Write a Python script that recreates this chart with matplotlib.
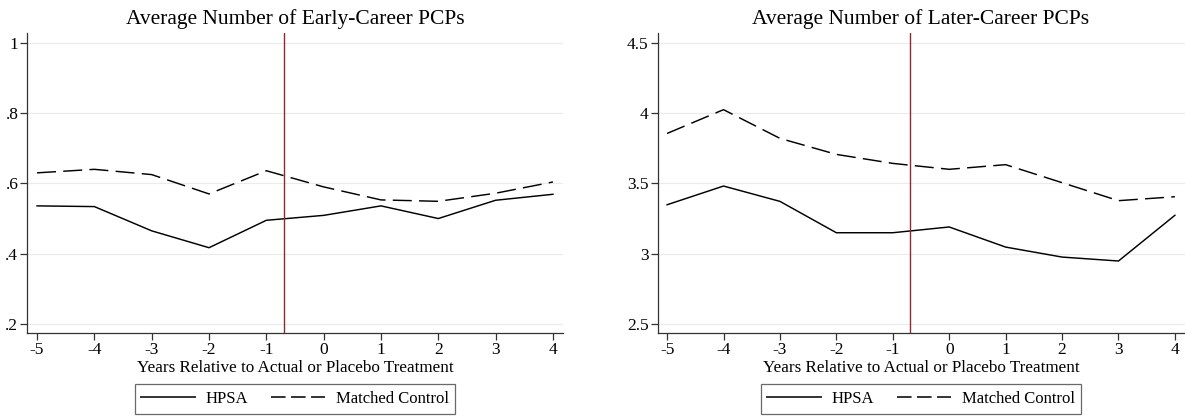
import matplotlib
matplotlib.use("Agg")
import matplotlib.pyplot as plt
from matplotlib.lines import Line2D

plt.rcParams["font.family"] = ["Liberation Serif", "DejaVu Serif"]

years = [-5, -4, -3, -2, -1, 0, 1, 2, 3, 4]
treat_line = -0.7

early_hpsa = [0.536, 0.534, 0.465, 0.417, 0.495, 0.509, 0.536, 0.500, 0.552, 0.569]
early_ctrl = [0.630, 0.640, 0.625, 0.570, 0.636, 0.590, 0.553, 0.549, 0.572, 0.604]

later_hpsa = [3.348, 3.481, 3.372, 3.149, 3.149, 3.190, 3.047, 2.976, 2.948, 3.273]
later_ctrl = [3.855, 4.024, 3.820, 3.706, 3.642, 3.600, 3.633, 3.505, 3.377, 3.405]

early_ticks = [0.2, 0.4, 0.6, 0.8, 1.0]
early_labels = [".2", ".4", ".6", ".8", "1"]
later_ticks = [2.5, 3.0, 3.5, 4.0, 4.5]
later_labels = ["2.5", "3", "3.5", "4", "4.5"]

titles = ["Average Number of Early-Career PCPs", "Average Number of Later-Career PCPs"]
xlabel = "Years Relative to Actual or Placebo Treatment"
legend_labels = ["HPSA", "Matched Control"]

W, H = 1185, 416
fig = plt.figure(figsize=(W / 100, H / 100), dpi=100)

def frac(x0, x1, ytop, ybot):
    return [x0 / W, 1 - ybot / H, (x1 - x0) / W, (ybot - ytop) / H]

ax1 = fig.add_axes(frac(27.3, 562.7, 33.3, 333.3))
ax2 = fig.add_axes(frac(657.5, 1184.5, 33.3, 333.3))

dash = (0, (13, 5))
spine_col = "#333333"

panels = [
    (ax1, early_hpsa, early_ctrl, early_ticks, early_labels, (0.1735, 1.027), titles[0]),
    (ax2, later_hpsa, later_ctrl, later_ticks, later_labels, (2.434, 4.567), titles[1]),
]

for ax, hp, ct, yt, yl, ylim, title in panels:
    for t in yt:
        ax.axhline(t, color="#ebebeb", lw=0.9, zorder=0)
    ax.plot(years, hp, color="black", lw=1.05, zorder=3)
    ax.plot(years, ct, color="black", lw=1.05, linestyle=dash, zorder=3)
    ax.axvline(treat_line, color="#8e2a2f", lw=1.0, zorder=4)
    ax.set_xlim(-5.17, 4.17)
    ax.set_ylim(*ylim)
    ax.set_xticks(years)
    ax.set_xticklabels([str(y) for y in years], fontsize=12.5)
    ax.set_yticks(yt)
    ax.set_yticklabels(yl, fontsize=12.5)
    for s in ("top", "right"):
        ax.spines[s].set_visible(False)
    for s in ("left", "bottom"):
        ax.spines[s].set_color(spine_col)
        ax.spines[s].set_linewidth(0.9)
    ax.tick_params(direction="out", length=5, width=0.9, color=spine_col, pad=1.5)
    ax.set_title(title, fontsize=15.5, pad=7)
    ax.set_xlabel(xlabel, fontsize=12.3, labelpad=1)

    handles = [
        Line2D([], [], color="#333333", lw=1.4),
        Line2D([], [], color="#333333", lw=1.4, linestyle=(0, (7.5, 2.8))),
    ]
    leg = ax.legend(handles, legend_labels, loc="upper center",
                    bbox_to_anchor=(0.5, -0.17), ncol=2, frameon=True,
                    fancybox=False, edgecolor="#444444", fontsize=12,
                    handlelength=3.2, columnspacing=1.4, handletextpad=0.65,
                    borderpad=0.4, borderaxespad=0)
    leg.get_frame().set_linewidth(0.9)

fig.savefig("out.png", dpi=100, facecolor="white")
